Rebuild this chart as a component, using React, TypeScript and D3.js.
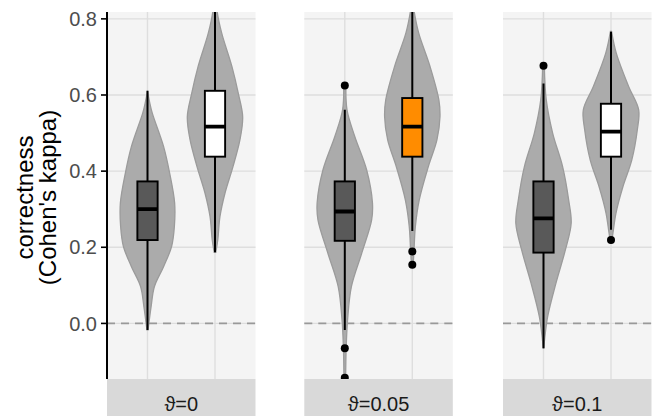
import React from "react";
import * as d3 from "d3";

const W = 656;
const H = 416;

const panels = ["ϑ=0", "ϑ=0.05", "ϑ=0.1"];
const groups = ["A", "B"];
const yTicks = [0, 0.2, 0.4, 0.6, 0.8];

// box statistics per panel, per group: [lower whisker, q1, median, q3, upper whisker]
const boxP1A = [-0.017, 0.219, 0.3, 0.373, 0.611];
const boxP1B = [0.187, 0.438, 0.517, 0.611, 0.87];
const boxP2A = [-0.017, 0.217, 0.294, 0.373, 0.561];
const boxP2B = [0.243, 0.438, 0.517, 0.592, 0.83];
const boxP3A = [-0.065, 0.186, 0.276, 0.373, 0.63];
const boxP3B = [0.246, 0.438, 0.504, 0.577, 0.766];

const outP1A: number[] = [];
const outP1B: number[] = [];
const outP2A = [0.625, -0.065, -0.143];
const outP2B = [0.189, 0.154];
const outP3A = [0.677];
const outP3B = [0.219];

// violin density profiles: [value, relative density]
const violP1A = [[0.611, 0], [0.58, 0.08], [0.553, 0.17], [0.465, 0.58], [0.395, 0.8], [0.317, 0.98], [0.254, 0.97], [0.202, 0.87], [0.149, 0.58], [0.097, 0.25], [0.044, 0.13], [-0.017, 0.02]];
const violP1B = [[0.87, 0.02], [0.818, 0.08], [0.763, 0.24], [0.675, 0.61], [0.605, 0.84], [0.543, 1.0], [0.482, 0.9], [0.412, 0.65], [0.342, 0.36], [0.281, 0.18], [0.219, 0.1], [0.187, 0.03]];
const violP2A = [[0.627, 0.04], [0.561, 0.08], [0.491, 0.36], [0.403, 0.79], [0.316, 1.0], [0.272, 0.97], [0.184, 0.61], [0.097, 0.24], [0.009, 0.1], [-0.065, 0.05], [-0.145, 0.03]];
const violP2B = [[0.84, 0.03], [0.818, 0.07], [0.763, 0.23], [0.675, 0.64], [0.587, 0.96], [0.543, 1.0], [0.482, 0.89], [0.412, 0.58], [0.324, 0.25], [0.254, 0.11], [0.189, 0.06], [0.154, 0.03]];
const violP3A = [[0.677, 0.03], [0.587, 0.1], [0.5, 0.33], [0.412, 0.69], [0.324, 0.91], [0.263, 1.0], [0.193, 0.79], [0.106, 0.45], [0.018, 0.15], [-0.035, 0.05], [-0.065, 0.01]];
const violP3B = [[0.767, 0.02], [0.71, 0.19], [0.622, 0.64], [0.561, 1.0], [0.508, 0.95], [0.429, 0.75], [0.359, 0.43], [0.29, 0.18], [0.237, 0.07], [0.219, 0.03]];

const boxFill = [
  ["#595959", "#ffffff"],
  ["#595959", "#ff8c00"],
  ["#595959", "#ffffff"],
];

const boxes = [[boxP1A, boxP1B], [boxP2A, boxP2B], [boxP3A, boxP3B]];
const outs = [[outP1A, outP1B], [outP2A, outP2B], [outP3A, outP3B]];
const viols = [[violP1A, violP1B], [violP2A, violP2B], [violP3A, violP3B]];

const FONT = "'Liberation Sans', Arial, Helvetica, sans-serif";

export default function App() {
  const top = 12;
  const bottom = 379;
  const panelX = [107, 304.3, 503];
  const panelW = 148.5;

  const y = d3.scaleLinear().domain([-0.146, 0.818]).range([bottom, top]);

  return (
    <svg width={W} height={H} style={{ position: "absolute", left: 0, top: 0, background: "#fff" }}>
      <defs>
        {panels.map((_, i) => (
          <clipPath id={`clip${i}`} key={i}>
            <rect x={panelX[i]} y={top} width={panelW} height={bottom - top} />
          </clipPath>
        ))}
      </defs>
      {panels.map((label, pi) => {
        const x0 = panelX[pi];
        const x = d3.scaleLinear().domain([0.4, 2.6]).range([x0, x0 + panelW]);
        const unit = x(2) - x(1);
        return (
          <g key={pi}>
            <rect x={x0} y={top} width={panelW} height={bottom - top} fill="#f4f4f4" />
            {yTicks.map((t) => (
              <line key={t} x1={x0} x2={x0 + panelW} y1={y(t)} y2={y(t)} stroke="#dedede" strokeWidth={1.4} />
            ))}
            {groups.map((g, gi) => (
              <line key={g} x1={x(gi + 1)} x2={x(gi + 1)} y1={top} y2={bottom} stroke="#dedede" strokeWidth={1.4} />
            ))}
            <line x1={x0} x2={x0 + panelW} y1={y(0)} y2={y(0)} stroke="#999999" strokeWidth={1.6} strokeDasharray="8,6" />
            <g clipPath={`url(#clip${pi})`}>
              {groups.map((g, gi) => {
                const cx = x(gi + 1);
                const half = 0.41 * unit;
                const v = viols[pi][gi];
                const area = d3
                  .area<number[]>()
                  .y((d) => y(d[0]))
                  .x0((d) => cx - d[1] * half)
                  .x1((d) => cx + d[1] * half)
                  .curve(d3.curveCatmullRom);
                const b = boxes[pi][gi];
                const bw = 0.3 * unit;
                return (
                  <g key={g}>
                    <path d={area(v) || ""} fill="#ababab" stroke="#9b9b9b" strokeWidth={1.3} />
                    <line x1={cx} x2={cx} y1={y(b[4])} y2={y(b[3])} stroke="#000" strokeWidth={2} />
                    <line x1={cx} x2={cx} y1={y(b[1])} y2={y(b[0])} stroke="#000" strokeWidth={2} />
                    <rect x={cx - bw / 2} y={y(b[3])} width={bw} height={y(b[1]) - y(b[3])} fill={boxFill[pi][gi]} stroke="#000" strokeWidth={1.9} />
                    <line x1={cx - bw / 2} x2={cx + bw / 2} y1={y(b[2])} y2={y(b[2])} stroke="#000" strokeWidth={3.8} />
                    {outs[pi][gi].map((o, oi) => (
                      <circle key={oi} cx={cx} cy={y(o)} r={4} fill="#000" />
                    ))}
                  </g>
                );
              })}
            </g>
            <rect x={x0} y={bottom} width={panelW} height={H - bottom + 10} fill="#d9d9d9" />
            <text x={x0 + panelW / 2} y={411} textAnchor="middle" fontFamily={FONT} fontSize={20} fill="#1a1a1a">
              {label}
            </text>
          </g>
        );
      })}
      <line x1={107} x2={107} y1={top} y2={bottom} stroke="#000" strokeWidth={2} />
      {yTicks.map((t) => (
        <g key={t}>
          <line x1={101} x2={107} y1={y(t)} y2={y(t)} stroke="#000" strokeWidth={1.6} />
          <text x={97} y={y(t)} dy="0.36em" textAnchor="end" fontFamily={FONT} fontSize={20} fill="#4d4d4d">
            {t.toFixed(1)}
          </text>
        </g>
      ))}
      <g transform={`translate(0, ${(top + bottom) / 2 + 2}) rotate(-90)`}>
        <text x={0} y={33} textAnchor="middle" fontFamily={FONT} fontSize={24} fill="#000">
          correctness
        </text>
        <text x={0} y={56} textAnchor="middle" fontFamily={FONT} fontSize={24} fill="#000">
          (Cohen's kappa)
        </text>
      </g>
    </svg>
  );
}
